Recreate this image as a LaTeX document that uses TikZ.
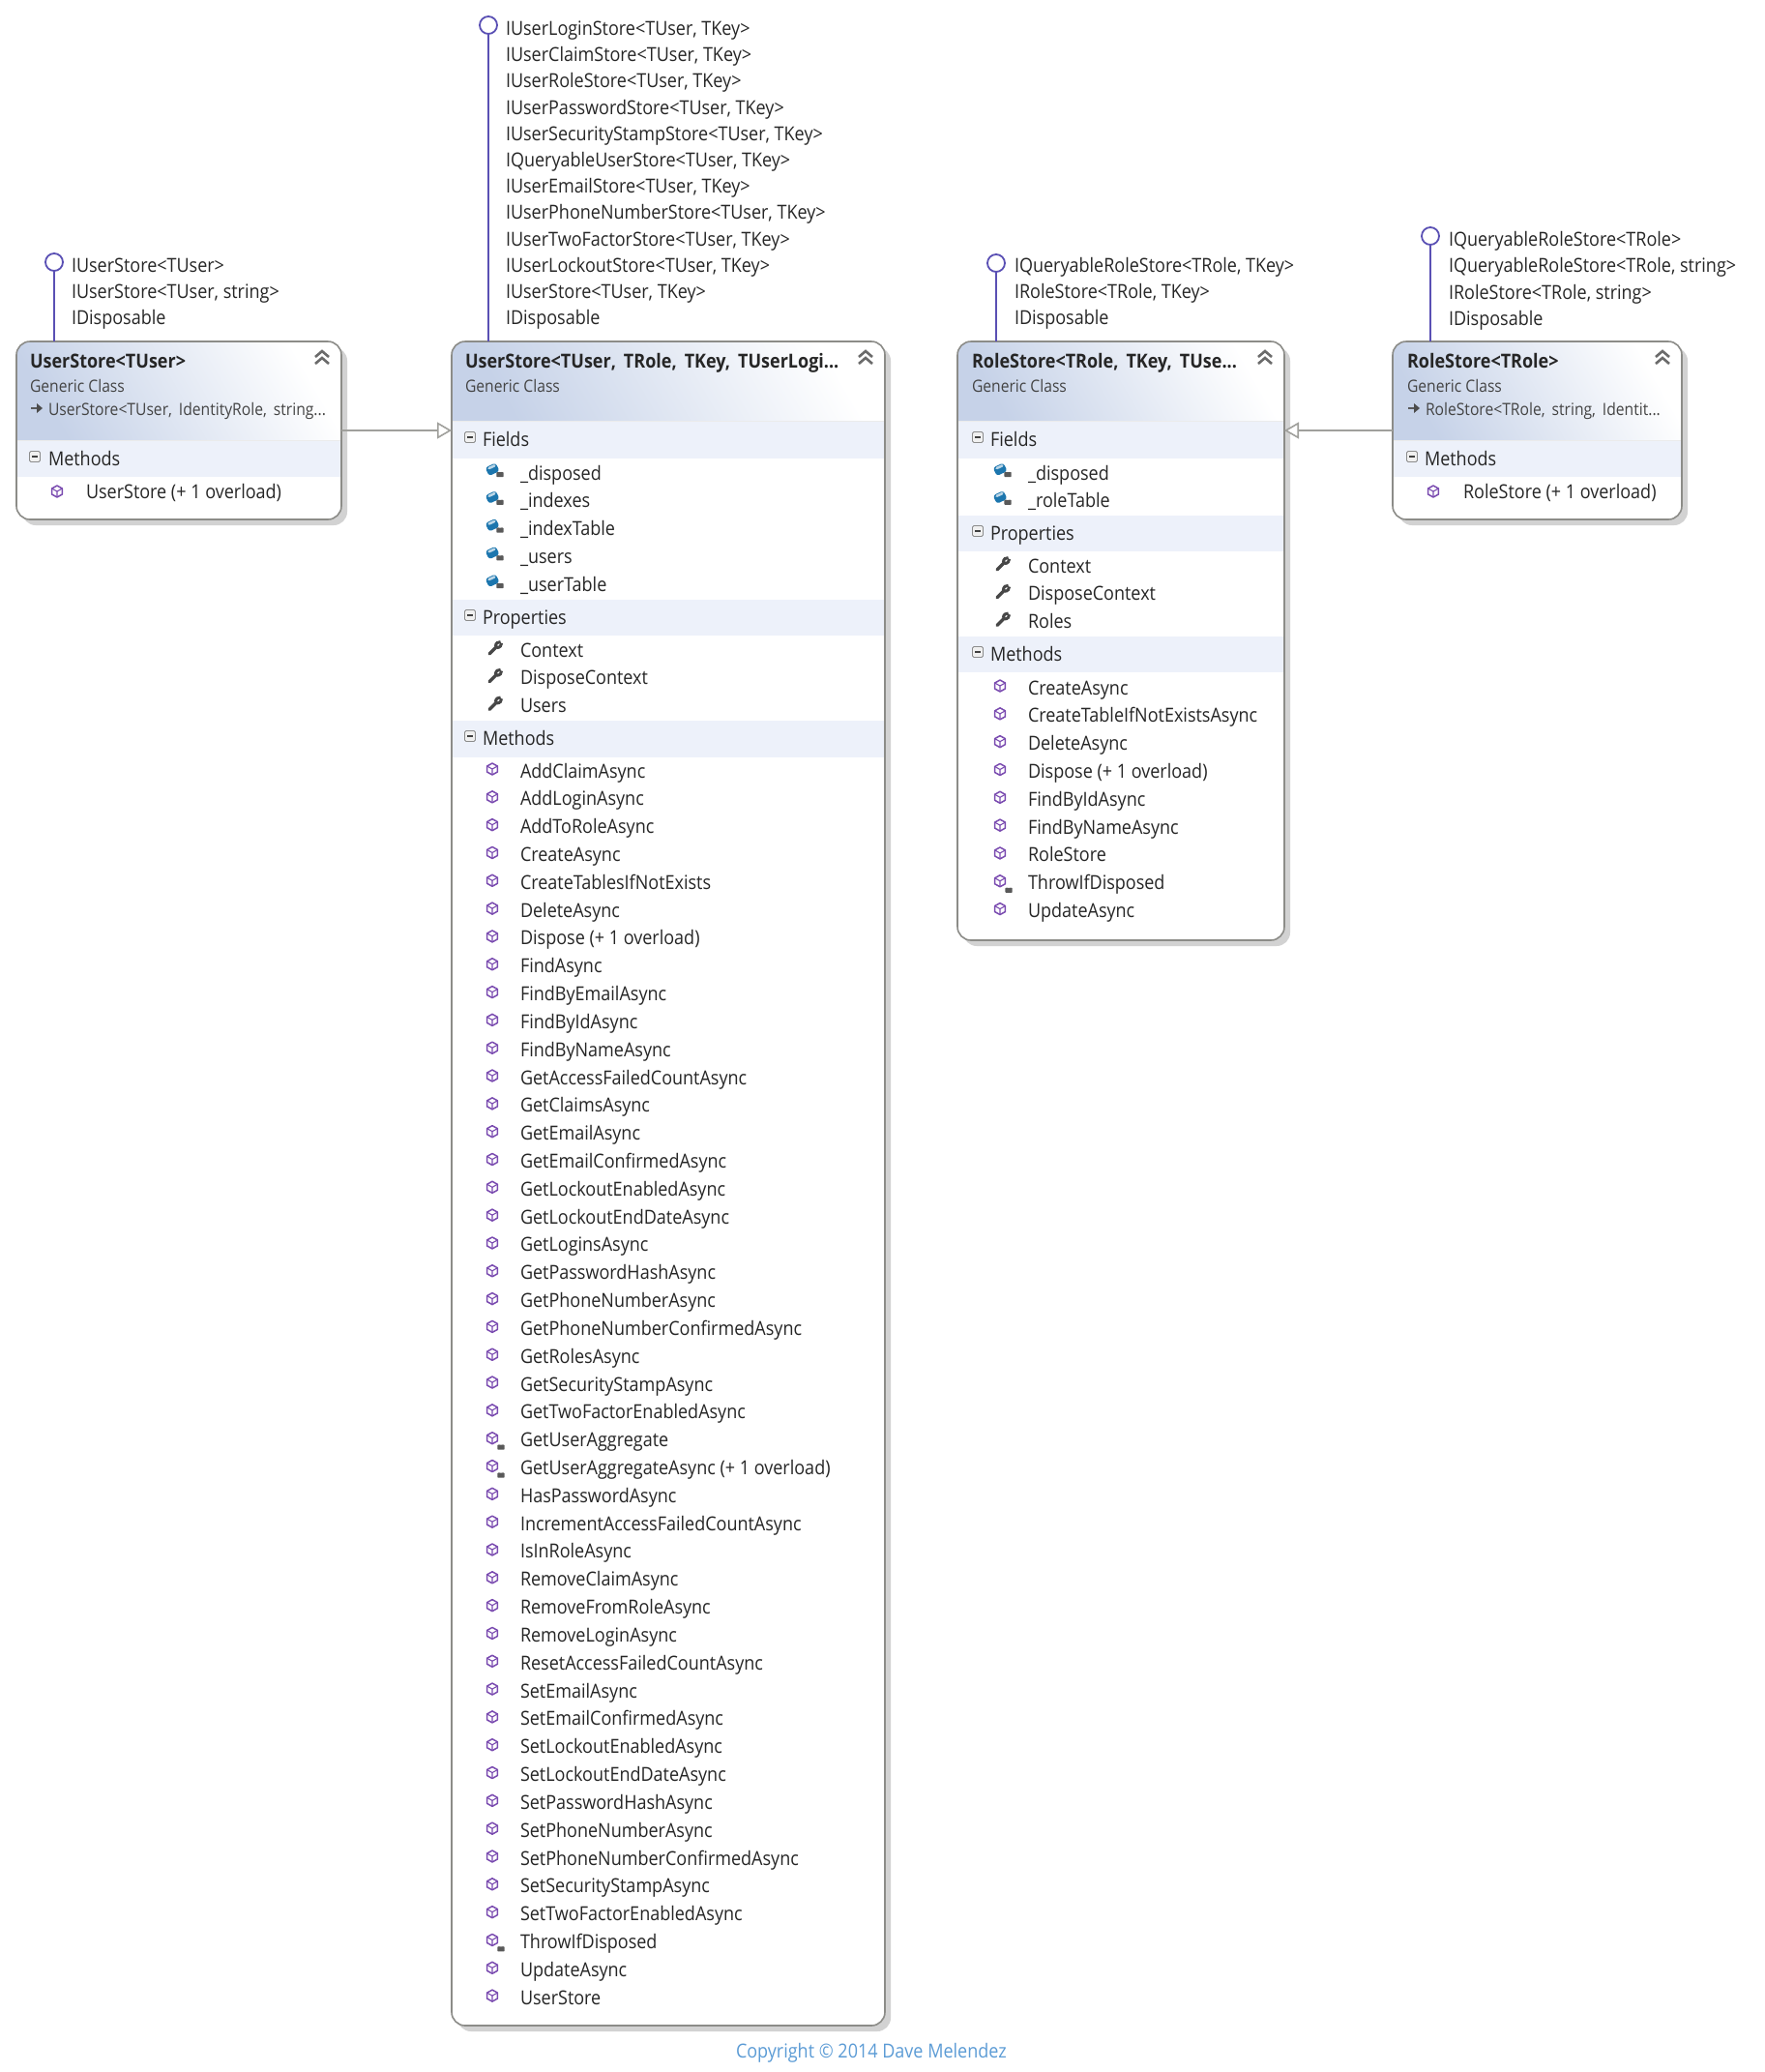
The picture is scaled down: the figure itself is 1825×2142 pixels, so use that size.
\documentclass[tikz,border=0pt]{standalone}
\usepackage{fontspec}
\setmainfont{Open Sans}[FakeStretch=0.9]
\usetikzlibrary{arrows.meta,calc}
\definecolor{bordc}{HTML}{8C8C88}
\definecolor{shadc}{HTML}{D2D2D2}
\definecolor{hdrc}{HTML}{C6D2E8}
\definecolor{bandc}{HTML}{EDF1FA}
\definecolor{lolc}{HTML}{5A50B4}
\definecolor{txtc}{HTML}{262626}
\definecolor{subc}{HTML}{444444}
\definecolor{linkc}{HTML}{A0A09C}
\definecolor{mthc}{HTML}{7A4BB0}
\definecolor{fldc}{HTML}{1C76AE}
\definecolor{copyc}{HTML}{5B9BD5}
\newcount\tn
\newcommand{\nn}{\global\advance\tn by 1 }
\tikzset{
  x=1pt,y=-1pt,
  lbl/.style={anchor=base west,inner sep=0pt,outer sep=0pt,text=txtc,font=\fontsize{20}{24}\selectfont},
  ttl/.style={lbl,font=\fontsize{20}{24}\selectfont\bfseries},
  sublbl/.style={lbl,text=subc,font=\fontsize{17.4}{20}\selectfont},
  classbox/.style={draw=none,inner sep=0pt,outer sep=0pt,rectangle,rounded corners=14pt},
  lollipop/.style={circle,draw=lolc,line width=1.8pt,fill=white,minimum size=18pt,inner sep=0pt,outer sep=0pt},
  lolline/.style={draw=lolc,line width=1.8pt},
  inherit/.style={draw=linkc,line width=1.6pt,-{Triangle[open,length=15pt,width=17pt,fill=white]}},
  border/.style={draw=bordc,line width=1.6pt,rounded corners=14pt},
}
% name, x1,y1,x2,y2, header bottom
\newcommand{\classframe}[6]{%
  \fill[shadc,rounded corners=14pt] (#2+6,#3+6) rectangle (#4+6,#5+6);
  \node[classbox,fill=white,minimum width=#4pt-#2pt,minimum height=#5pt-#3pt] (#1) at ({(#2+#4)/2},{(#3+#5)/2}) {};
  \begin{scope}
    \clip[rounded corners=14pt] (#2,#3) rectangle (#4,#5);
    \shade[bottom color=hdrc,top color=white,shading angle=-60] (#2,#3) rectangle (#4,#6);
    \fill[black!8] (#2,#6-1) rectangle (#4,#6+1);
  \end{scope}}
\newcommand{\classborder}[5]{\draw[border] (#2,#3) rectangle (#4,#5);}
\newcommand{\chev}[2]{%
  \begin{scope}[shift={(#1,#2)}]
    \draw[line width=2.6pt,draw=black!58,line join=miter] (-7,-1) -- (0,-7) -- (7,-1);
    \draw[line width=2.6pt,draw=black!58,line join=miter] (-7,6) -- (0,0) -- (7,6);
  \end{scope}}
\newcommand{\minusbox}[2]{%
  \begin{scope}[shift={(#1,#2)}]
    \draw[draw=black!45,fill=black!6,line width=0.9pt,rounded corners=1.5pt] (-5.5,-5.5) rectangle (5.5,5.5);
    \draw[black!75,line width=1.6pt] (-3,0) -- (3,0);
  \end{scope}}
\newcommand{\lockicon}[2]{%
  \begin{scope}[shift={(#1,#2)}]
    \draw[black!65,line width=1.1pt] (-2.2,-1) arc[start angle=180,end angle=0,radius=2.2];
    \fill[black!65,rounded corners=0.6pt] (-3.6,-1) rectangle (3.6,4);
  \end{scope}}
\newcommand{\mthicon}[2]{%
  \begin{scope}[shift={(#1,#2)}]
    \draw[mthc,line width=1.5pt,line join=round] (0,-6) -- (5.4,-3) -- (5.4,3) -- (0,6) -- (-5.4,3) -- (-5.4,-3) -- cycle;
    \draw[mthc,line width=1.1pt] (-5.4,-3) -- (0,0) -- (5.4,-3) (0,0) -- (0,6);
  \end{scope}}
\newcommand{\fldicon}[2]{%
  \begin{scope}[shift={(#1,#2)}]
    \fill[fldc,rotate=25,rounded corners=3pt] (-6,-4.5) rectangle (6,5);
    \fill[white!70!fldc,rotate=25,rounded corners=1.5pt] (-4,-3.6) rectangle (5,-1);
    \lockicon{8}{4}
  \end{scope}}
\newcommand{\wrench}[2]{%
  \begin{scope}[shift={(#1,#2)}]
    \draw[black!72,line width=3.4pt,line cap=round] (-6,6) -- (1.5,-1.5);
    \draw[black!72,line width=3pt] (0.4,-1.6) .. controls (0.4,-5) and (3,-6.8) .. (5.6,-6.4);
    \draw[black!72,line width=3pt] (1.6,-0.4) .. controls (5,-0.4) and (6.8,-3) .. (6.6,-5.2);
  \end{scope}}
\newcommand{\inhglyph}[2]{%
  \begin{scope}[shift={(#1,#2)}]
    \draw[black!65,line width=1.5pt] (0,0) -- (7,0);
    \fill[black!70] (6,-5) -- (12,0) -- (6,5) -- cycle;
  \end{scope}}
% band: x1,x2,y1,y2, minus x, text x, text
\newcommand{\band}[7]{%
  \fill[bandc] (#1,#3) rectangle (#2,#4);
  \minusbox{#5}{#3+16}
  \nn\node[lbl] (sec\the\tn) at (#6,#3+25.5) {#7};}
\begin{document}
\begin{tikzpicture}
\useasboundingbox (0,0) rectangle (1825,2142);

% ---- Box A
\classframe{A}{17}{353}{353}{537}{456}
\nn\node[ttl] (tA) at (31,380) {UserStore<TUser>};
\node[sublbl] (gA) at (31,405) {Generic Class};
\inhglyph{32}{422}
\node[sublbl] (bA) at (50,429) {UserStore<TUser,\,\ IdentityRole,\,\ string...};
\chev{333}{370}
\band{18}{352}{456}{493}{36}{50}{Methods}
\mthicon{59}{508}
\node[lbl] (mA) at (89,515) {UserStore (+ 1 overload)};
\classborder{A}{17}{353}{353}{537}

% ---- Box B
\classframe{B}{467}{353}{915}{2094}{436}
\node[ttl] (tB) at (481,380) {UserStore<TUser,\,\ TRole,\,\ TKey,\,\ TUserLogi...};
\node[sublbl] (gB) at (481,405) {Generic Class};
\chev{895}{370}
\band{468}{914}{436}{474}{486}{499}{Fields}
\foreach \t [count=\i] in {\_disposed,\_indexes,\_indexTable,\_users,\_userTable}{
  \pgfmathsetmacro\yy{489+(\i-1)*28.75}
  \fldicon{509}{\yy-4}
  \node[lbl] (fB\i) at (538,\yy+7) {\t};
}
\band{468}{914}{620}{657}{486}{499}{Properties}
\foreach \t [count=\i] in {Context,DisposeContext,Users}{
  \pgfmathsetmacro\yy{672+(\i-1)*28.7}
  \wrench{512}{\yy-2}
  \node[lbl] (pB\i) at (538,\yy+7) {\t};
}
\band{468}{914}{745}{783}{486}{499}{Methods}
\foreach \t [count=\i] in {AddClaimAsync,AddLoginAsync,AddToRoleAsync,CreateAsync,CreateTablesIfNotExists,DeleteAsync,Dispose (+ 1 overload),FindAsync,FindByEmailAsync,FindByIdAsync,FindByNameAsync,GetAccessFailedCountAsync,GetClaimsAsync,GetEmailAsync,GetEmailConfirmedAsync,GetLockoutEnabledAsync,GetLockoutEndDateAsync,GetLoginsAsync,GetPasswordHashAsync,GetPhoneNumberAsync,GetPhoneNumberConfirmedAsync,GetRolesAsync,GetSecurityStampAsync,GetTwoFactorEnabledAsync,GetUserAggregate,GetUserAggregateAsync (+ 1 overload),HasPasswordAsync,IncrementAccessFailedCountAsync,IsInRoleAsync,RemoveClaimAsync,RemoveFromRoleAsync,RemoveLoginAsync,ResetAccessFailedCountAsync,SetEmailAsync,SetEmailConfirmedAsync,SetLockoutEnabledAsync,SetLockoutEndDateAsync,SetPasswordHashAsync,SetPhoneNumberAsync,SetPhoneNumberConfirmedAsync,SetSecurityStampAsync,SetTwoFactorEnabledAsync,ThrowIfDisposed,UpdateAsync,UserStore}{
  \pgfmathsetmacro\yy{797+(\i-1)*28.82}
  \mthicon{509}{\yy-2}
  \node[lbl] (mB\i) at (538,\yy+7) {\t};
}
\foreach \k in {25,26,43}{
  \pgfmathsetmacro\yy{797+(\k-1)*28.82}
  \lockicon{518}{\yy+6}
}
\classborder{B}{467}{353}{915}{2094}

% ---- Box C
\classframe{C}{990}{353}{1328}{972}{436}
\node[ttl] (tC) at (1005,380) {RoleStore<TRole,\,\ TKey,\,\ TUse...};
\node[sublbl] (gC) at (1005,405) {Generic Class};
\chev{1308}{370}
\band{991}{1327}{436}{474}{1011}{1024}{Fields}
\foreach \t [count=\i] in {\_disposed,\_roleTable}{
  \pgfmathsetmacro\yy{489+(\i-1)*28.75}
  \fldicon{1034}{\yy-4}
  \node[lbl] (fC\i) at (1063,\yy+7) {\t};
}
\band{991}{1327}{533}{570}{1011}{1024}{Properties}
\foreach \t [count=\i] in {Context,DisposeContext,Roles}{
  \pgfmathsetmacro\yy{585+(\i-1)*28.7}
  \wrench{1037}{\yy-2}
  \node[lbl] (pC\i) at (1063,\yy+7) {\t};
}
\band{991}{1327}{658}{695}{1011}{1024}{Methods}
\foreach \t [count=\i] in {CreateAsync,CreateTableIfNotExistsAsync,DeleteAsync,Dispose (+ 1 overload),FindByIdAsync,FindByNameAsync,RoleStore,ThrowIfDisposed,UpdateAsync}{
  \pgfmathsetmacro\yy{711+(\i-1)*28.82}
  \mthicon{1034}{\yy-2}
  \node[lbl] (mC\i) at (1063,\yy+7) {\t};
}
\pgfmathsetmacro\yy{711+7*28.82}
\lockicon{1043}{\yy+6}
\classborder{C}{990}{353}{1328}{972}

% ---- Box D
\classframe{D}{1440}{353}{1739}{537}{456}
\node[ttl] (tD) at (1455,380) {RoleStore<TRole>};
\node[sublbl] (gD) at (1455,405) {Generic Class};
\inhglyph{1456}{422}
\node[sublbl] (bD) at (1474,429) {RoleStore<TRole,\,\ string,\,\ Identit...};
\chev{1719}{370}
\band{1441}{1738}{456}{493}{1460}{1473}{Methods}
\mthicon{1482}{508}
\node[lbl] (mD) at (1513,515) {RoleStore (+ 1 overload)};
\classborder{D}{1440}{353}{1739}{537}

% ---- Lollipops
\node[lollipop] (lA) at (56,271) {};
\node[lollipop] (lB) at (505,26) {};
\node[lollipop] (lC) at (1030,272) {};
\node[lollipop] (lD) at (1479,244) {};
\draw[lolline] (lA) -- (lA |- A.north);
\draw[lolline] (lB) -- (lB |- B.north);
\draw[lolline] (lC) -- (lC |- C.north);
\draw[lolline] (lD) -- (lD |- D.north);

\foreach \t [count=\i] in {IUserStore<TUser>,{IUserStore<TUser, string>},IDisposable}{
  \node[lbl] (iA\i) at (74,{281+(\i-1)*27.4}) {\t};
}
\foreach \t [count=\i] in {{IUserLoginStore<TUser, TKey>},{IUserClaimStore<TUser, TKey>},{IUserRoleStore<TUser, TKey>},{IUserPasswordStore<TUser, TKey>},{IUserSecurityStampStore<TUser, TKey>},{IQueryableUserStore<TUser, TKey>},{IUserEmailStore<TUser, TKey>},{IUserPhoneNumberStore<TUser, TKey>},{IUserTwoFactorStore<TUser, TKey>},{IUserLockoutStore<TUser, TKey>},{IUserStore<TUser, TKey>},IDisposable}{
  \node[lbl] (iB\i) at (523,{36.3+(\i-1)*27.24}) {\t};
}
\foreach \t [count=\i] in {{IQueryableRoleStore<TRole, TKey>},{IRoleStore<TRole, TKey>},IDisposable}{
  \node[lbl] (iC\i) at (1049,{281+(\i-1)*27.4}) {\t};
}
\foreach \t [count=\i] in {IQueryableRoleStore<TRole>,{IQueryableRoleStore<TRole, string>},{IRoleStore<TRole, string>},IDisposable}{
  \node[lbl] (iD\i) at (1498,{254.5+(\i-1)*27.3}) {\t};
}

% ---- Inheritance
\draw[inherit] (A.east) -- (A.east -| B.west);
\draw[inherit] (D.west) -- (D.west -| C.east);

% ---- Copyright
\node[lbl,text=copyc] (cr) at (761,2127) {Copyright © 2014 Dave Melendez};
\end{tikzpicture}
\end{document}
